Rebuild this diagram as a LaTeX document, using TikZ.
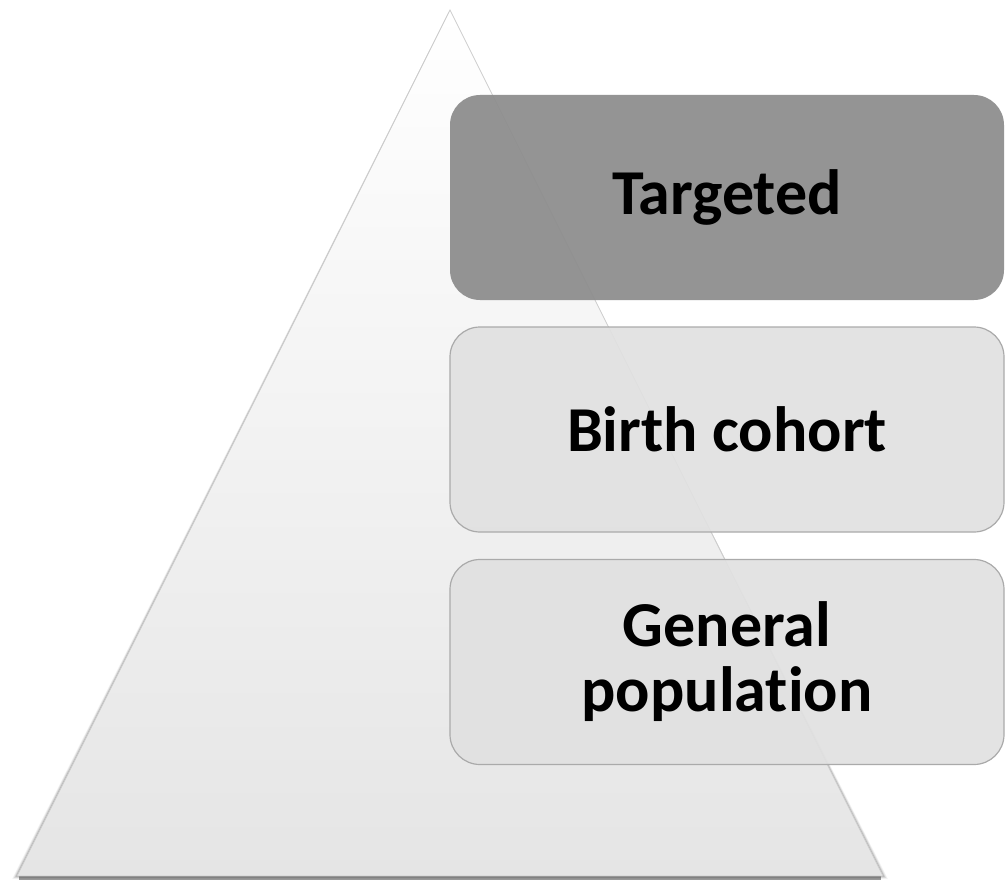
\documentclass[tikz,border=0pt]{standalone}
\usepackage{fontspec}
\setmainfont[RawFeature={-liga;-clig;-dlig}]{Carlito}
\usetikzlibrary{shapes.geometric}
\definecolor{darkbox}{RGB}{140,140,140}
\definecolor{lightbox}{RGB}{225,225,225}
\definecolor{boxline}{RGB}{170,170,170}
\definecolor{tribot}{RGB}{229,229,229}
\definecolor{trimid}{RGB}{250,250,250}
\definecolor{triedge}{RGB}{205,205,205}
\tikzset{
  levelbox/.style={rounded corners=30pt, minimum width=554pt, minimum height=205pt,
    inner sep=0pt, align=center, font=\fontsize{64}{65}\selectfont\bfseries, text=black},
  topbox/.style={levelbox, fill=darkbox, fill opacity=0.93, text opacity=1, draw=none},
  lowbox/.style={levelbox, fill=lightbox, fill opacity=0.93, text opacity=1, draw=boxline, line width=1.2pt},
}
\begin{document}
\begin{tikzpicture}[x=1pt,y=-1pt]
\useasboundingbox (0,0) rectangle (1005,880);
% shadow of the pyramid
\foreach \o/\a in {5/0.04,4/0.05,3/0.07,2/0.09,1/0.12}{
  \fill[black, opacity=\a] (450-\o*0.4,10+\o*0.6) -- (17-\o,876+\o*0.6) -- (883+\o,876+\o*0.6) -- cycle;
}
\fill[black, opacity=0.4] (19,876) rectangle (881,879.5);
% pyramid
\shade[top color=white, middle color=trimid, bottom color=tribot, draw=triedge, line width=0.8pt]
  (450,10) -- (17,876) -- (883,876) -- cycle;
% levels
\node[topbox] (targeted) at (727,197.5) {Targeted};
\node[lowbox] (birth) at (727,429.5) {Birth cohort};
\node[lowbox] (general) at (727,662) {General\\population};
\end{tikzpicture}
\end{document}
